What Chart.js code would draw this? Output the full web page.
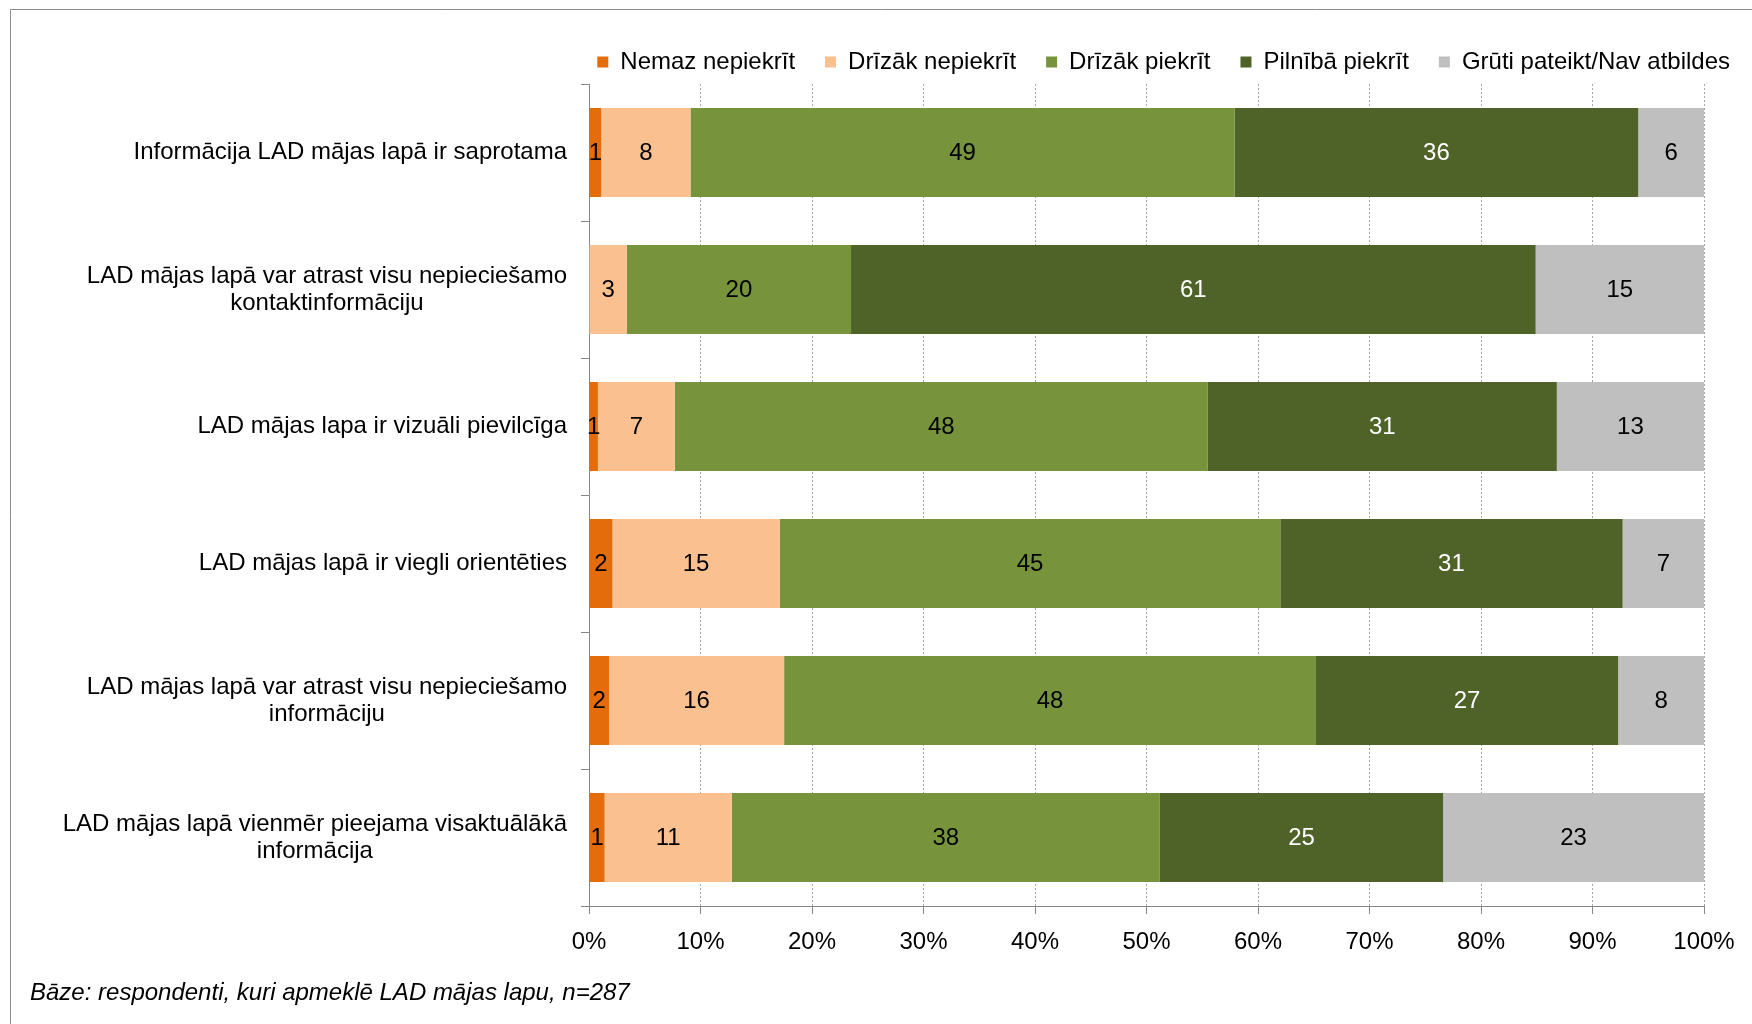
<!DOCTYPE html>
<html>
<head>
<meta charset="UTF-8">
<title>LAD mājas lapa</title>
<script src="https://cdn.jsdelivr.net/npm/chart.js@4.4.0/dist/chart.umd.min.js"></script>
<style>
  html, body { margin: 0; padding: 0; background: #fff; }
  canvas { display: block; }
</style>
</head>
<body>
<canvas id="myChart" width="1752" height="1024"></canvas>

<script>
// kategorijas (rindas), vairākrindu nosaukumi kā masīvi
const categories = [
  ['Informācija LAD mājas lapā ir saprotama'],
  ['LAD mājas lapā var atrast visu nepieciešamo', 'kontaktinformāciju'],
  ['LAD mājas lapa ir vizuāli pievilcīga'],
  ['LAD mājas lapā ir viegli orientēties'],
  ['LAD mājas lapā var atrast visu nepieciešamo', 'informāciju'],
  ['LAD mājas lapā vienmēr pieejama visaktuālākā', 'informācija']
];
const seriesNames = ['Nemaz nepiekrīt', 'Drīzāk nepiekrīt', 'Drīzāk piekrīt', 'Pilnībā piekrīt', 'Grūti pateikt/Nav atbildes'];
const seriesColors = ['#E46C0A', '#FAC090', '#77933C', '#4F6228', '#BFBFBF'];
const labelColors = ['#000', '#000', '#000', '#fff', '#000'];

// vērtības procentos, nolasītas no attēla
const nemazNepiekrit = [1.1, 0, 0.8, 2.1, 1.8, 1.4];
const drizakNepiekrit = [8.0, 3.4, 6.9, 15.0, 15.7, 11.4];
const drizakPiekrit = [48.8, 20.1, 47.8, 44.9, 47.7, 38.4];
const pilnibaPiekrit = [36.2, 61.4, 31.3, 30.7, 27.1, 25.4];
const grutiPateikt = [5.9, 15.1, 13.2, 7.3, 7.7, 23.4];

const xTickStep = 10;
const footNote = 'Bāze: respondenti, kuri apmeklē LAD mājas lapu, n=287';

const FONT = '"Liberation Sans", Arial, sans-serif';
Chart.defaults.font.family = FONT;
Chart.defaults.font.size = 24;
Chart.defaults.color = '#000';

const allSeries = [nemazNepiekrit, drizakNepiekrit, drizakPiekrit, pilnibaPiekrit, grutiPateikt];

// skaitļi joslu vidū
const barLabels = {
  id: 'barLabels',
  afterDatasetsDraw(chart) {
    const ctx = chart.ctx;
    ctx.save();
    ctx.font = '24px ' + FONT;
    ctx.textAlign = 'center';
    ctx.textBaseline = 'middle';
    chart.data.datasets.forEach(function(ds, di) {
      const meta = chart.getDatasetMeta(di);
      meta.data.forEach(function(bar, i) {
        const v = Math.round(ds.data[i]);
        if (!v) return;
        ctx.fillStyle = labelColors[di];
        ctx.fillText(v, (bar.x + bar.base) / 2, bar.y + 1);
      });
    });
    ctx.restore();
  }
};

// kategoriju nosaukumi, rindas centrētas savā starpā
const catLabels = {
  id: 'catLabels',
  afterDraw(chart) {
    const ctx = chart.ctx;
    const yScale = chart.scales.y;
    const right = chart.chartArea.left - 22;
    const lineH = 27;
    ctx.save();
    ctx.font = '24px ' + FONT;
    ctx.fillStyle = '#000';
    ctx.textAlign = 'center';
    ctx.textBaseline = 'middle';
    categories.forEach(function(lines, i) {
      const w = Math.max.apply(null, lines.map(l => ctx.measureText(l).width));
      const cx = right - w / 2;
      const cy = yScale.getPixelForValue(i);
      const y0 = cy - (lines.length - 1) * lineH / 2;
      lines.forEach(function(l, j) {
        ctx.fillText(l, cx, y0 + j * lineH);
      });
    });
    // piezīme apakšā
    ctx.font = 'italic 24px ' + FONT;
    ctx.textAlign = 'left';
    ctx.fillText(footNote, 30, 993);
    // rāmis
    ctx.strokeStyle = '#8C8C8C';
    ctx.lineWidth = 1;
    ctx.beginPath();
    ctx.moveTo(10.5, 1024);
    ctx.lineTo(10.5, 9.5);
    ctx.lineTo(1752, 9.5);
    ctx.stroke();
    ctx.restore();
  }
};

new Chart('myChart', {
  type: 'bar',
  data: {
    labels: categories,
    datasets: seriesNames.map(function(name, i) {
      return {
        label: name,
        data: allSeries[i],
        backgroundColor: seriesColors[i],
        borderWidth: 0,
        categoryPercentage: 1,
        barPercentage: 0.65
      };
    })
  },
  options: {
    indexAxis: 'y',
    responsive: false,
    animation: false,
    layout: { padding: { top: 14, right: -8, bottom: 0, left: 0 } },
    plugins: {
      legend: {
        position: 'top',
        align: 'end',
        labels: { boxWidth: 11, boxHeight: 11, padding: 30, color: '#000', font: { size: 24 } }
      },
      tooltip: { enabled: false }
    },
    scales: {
      x: {
        stacked: true,
        min: 0,
        max: 100,
        ticks: {
          stepSize: xTickStep,
          callback: v => v + '%',
          padding: 14,
          maxRotation: 0,
          color: '#000'
        },
        grid: { color: '#A6A6A6', tickColor: '#868686', tickLength: 8, tickBorderDash: [] },
        border: { color: '#868686', dash: [2, 2] },
        afterFit: function(s) { s.height = 118; s.paddingRight = 48; }
      },
      y: {
        stacked: true,
        ticks: { display: false },
        grid: { drawOnChartArea: false, tickLength: 8, tickColor: '#868686' },
        border: { color: '#868686' },
        afterFit: function(s) { s.width = 589; s.paddingTop = 84; }
      }
    }
  },
  plugins: [barLabels, catLabels]
});
</script>
</body>
</html>
